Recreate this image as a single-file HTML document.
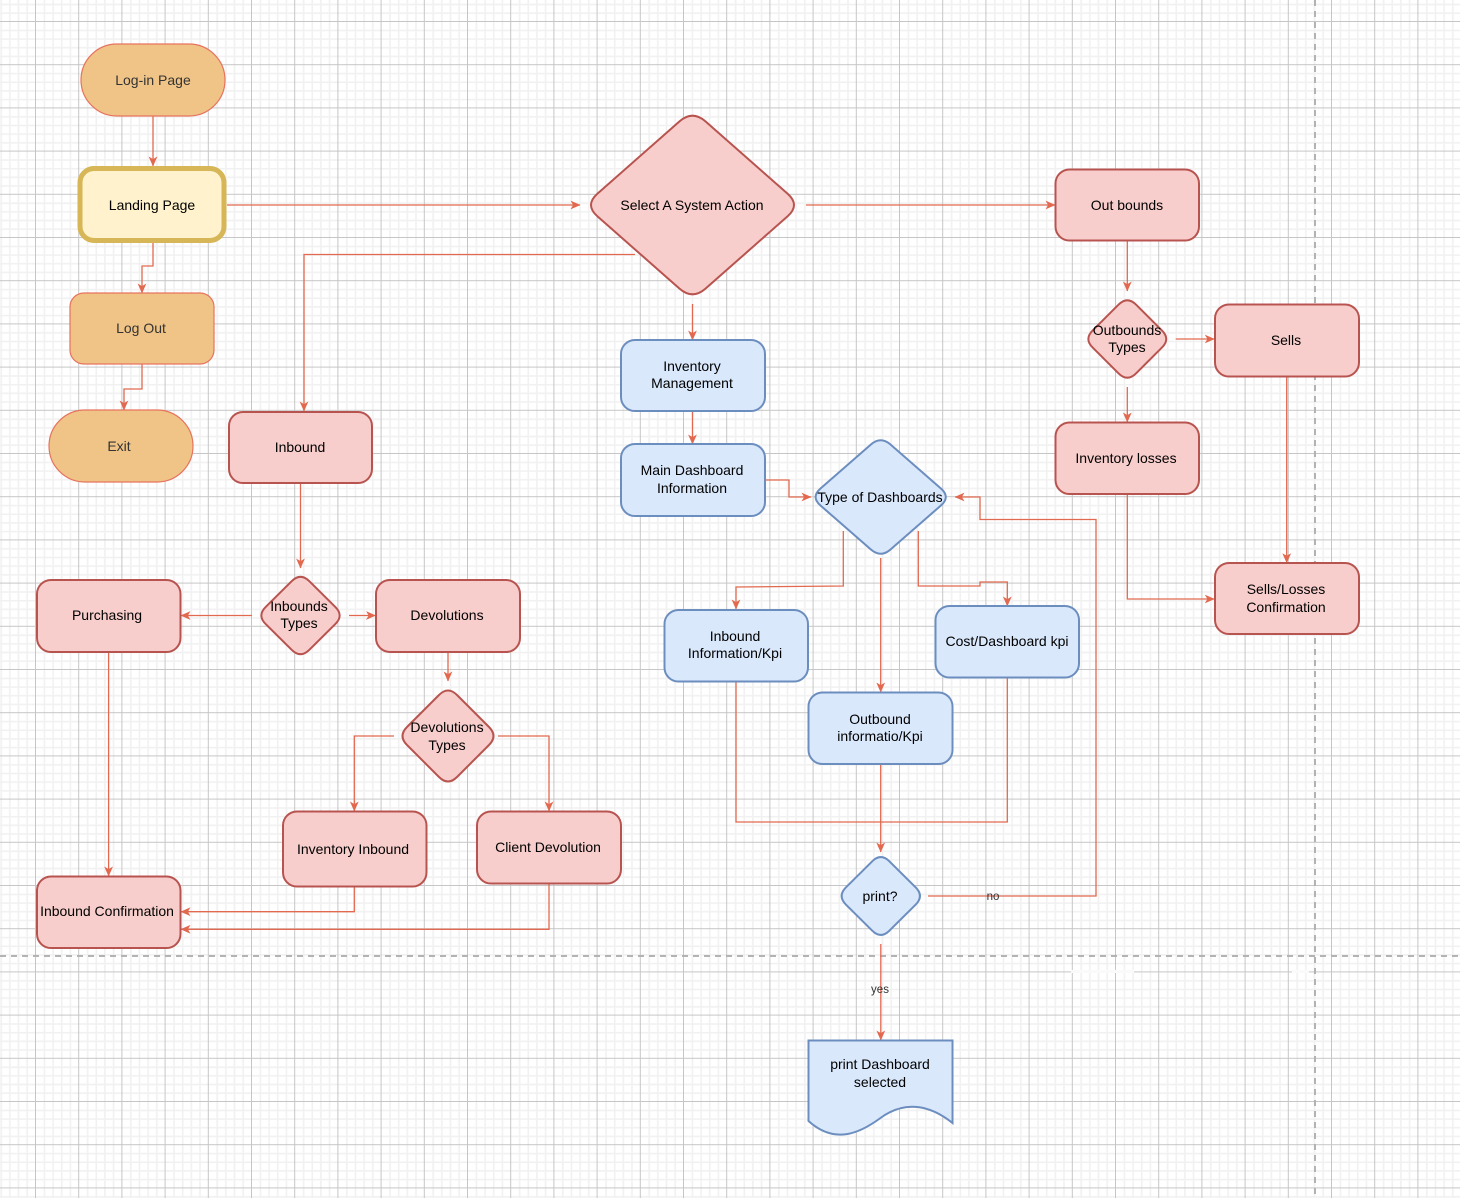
<!DOCTYPE html>
<html>
<head>
<meta charset="utf-8">
<style>
  html,body{margin:0;padding:0;background:#fff;}
  svg{display:block;}
  text{font-family:"Liberation Sans",Helvetica,Arial,sans-serif;font-size:14px;fill:#000;}
  .dk{fill:#333;}
  .lbl{font-size:11.5px;fill:#333;}
</style>
</head>
<body>
<svg width="1460" height="1198" viewBox="0 0 1460 1198" xmlns="http://www.w3.org/2000/svg">
  <defs>
    <pattern id="grid" x="35" y="21" width="43.2" height="43.2" patternUnits="userSpaceOnUse">
      <rect x="8.64" y="0" width="1.6" height="43.2" fill="#f1f1f1"/>
      <rect x="17.28" y="0" width="1.6" height="43.2" fill="#f1f1f1"/>
      <rect x="25.92" y="0" width="1.6" height="43.2" fill="#f1f1f1"/>
      <rect x="34.56" y="0" width="1.6" height="43.2" fill="#f1f1f1"/>
      <rect x="0" y="8.64" width="43.2" height="1.6" fill="#f1f1f1"/>
      <rect x="0" y="17.28" width="43.2" height="1.6" fill="#f1f1f1"/>
      <rect x="0" y="25.92" width="43.2" height="1.6" fill="#f1f1f1"/>
      <rect x="0" y="34.56" width="43.2" height="1.6" fill="#f1f1f1"/>
      <rect x="0" y="0" width="1" height="43.2" fill="#c6c6c6"/>
      <rect x="0" y="0" width="43.2" height="1" fill="#c6c6c6"/>
    </pattern>
    <marker id="ar" viewBox="0 0 10 10" refX="9.5" refY="5" markerWidth="10" markerHeight="10" markerUnits="userSpaceOnUse" orient="auto">
      <path d="M0,0.6 L10,5 L0,9.4 L2.6,5 Z" fill="#E2694F"/>
    </marker>
  </defs>

  <!-- background grid -->
  <rect x="0" y="0" width="1460" height="1198" fill="#fff"/>
  <rect x="0" y="0" width="1460" height="1198" fill="url(#grid)"/>
  <!-- small grid artifacts -->
  <rect x="1071" y="970" width="63" height="3" fill="#fafafa"/>
  <rect x="1292" y="970" width="17" height="3" fill="#fafafa"/>

  <!-- page break dashed lines -->
  <line x1="0" y1="956" x2="1460" y2="956" stroke="#b3b3b3" stroke-width="2" stroke-dasharray="6 5"/>
  <line x1="1315" y1="0" x2="1315" y2="1198" stroke="#b3b3b3" stroke-width="2" stroke-dasharray="6 5"/>

  <!-- connectors -->
  <g fill="none" stroke="#E2694F" stroke-width="1.3" marker-end="url(#ar)">
    <path d="M153,116 L153,166"/>
    <path d="M153,243 L153,266 L142,266 L142,293"/>
    <path d="M142,364 L142,389 L124,389 L124,410"/>
    <path d="M227,205 L580,205"/>
    <path d="M635,254.5 L304,254.5 L304,411"/>
    <path d="M806,205 L1055,205"/>
    <path d="M692.5,304 L692.5,340"/>
    <path d="M692.5,412 L692.5,444"/>
    <path d="M765,480 L789,480 L789,497 L811,497"/>
    <path d="M843.3,531 L843.3,586 L736,587 L736,609"/>
    <path d="M880.7,558 L880.7,692"/>
    <path d="M918.3,531 L918.3,586 L980,586 L980,582 L1007.3,582 L1007.3,606"/>
    <path d="M880.7,764 L880.7,852"/>
    <path d="M928,896 L1096,896 L1096,519.5 L980,519.5 L980,497 L955,497"/>
    <path d="M880.8,944 L880.8,1040"/>
    <path d="M1127.3,241 L1127.3,291"/>
    <path d="M1175.7,339 L1214.3,339"/>
    <path d="M1127.3,387 L1127.3,422"/>
    <path d="M1127.3,494 L1127.3,599 L1214.3,599"/>
    <path d="M1286.7,377 L1286.7,562.7"/>
    <path d="M300.5,483 L300.5,568"/>
    <path d="M252,615.5 L181,615.5"/>
    <path d="M349,615.5 L375.5,615.5"/>
    <path d="M448,652 L448,681"/>
    <path d="M394,736 L354.3,736 L354.3,811"/>
    <path d="M498,736 L549,736 L549,811"/>
    <path d="M108.6,652 L108.6,876"/>
    <path d="M354.3,887 L354.3,911.7 L181,911.7"/>
    <path d="M549,883 L549,929.3 L181,929.3"/>
  </g>
  <path d="M736,682 L736,822 L1007.3,822 L1007.3,678" fill="none" stroke="#E2694F" stroke-width="1.3"/>

  <!-- orange nodes -->
  <rect x="81" y="44" width="144" height="72" rx="36" fill="#F0C487" stroke="#E6735E" stroke-width="1.2"/>
  <rect x="70" y="293" width="144" height="71" rx="14" fill="#F0C487" stroke="#E6735E" stroke-width="1.2"/>
  <rect x="49" y="410" width="144" height="72" rx="36" fill="#F0C487" stroke="#E6735E" stroke-width="1.2"/>
  <rect x="80" y="168.5" width="144" height="72" rx="14" fill="#FFF2CC" stroke="#D6B656" stroke-width="5"/>

  <!-- pink nodes -->
  <g fill="#F8CECC" stroke="#B85450" stroke-width="2">
    <rect x="229" y="412" width="143" height="71" rx="14"/>
    <rect x="1055.5" y="169.5" width="143.5" height="71" rx="14"/>
    <rect x="1215" y="304.5" width="144" height="72" rx="14"/>
    <rect x="1055.5" y="422.5" width="143.5" height="71.5" rx="14"/>
    <rect x="1215" y="563" width="144" height="71" rx="14"/>
    <rect x="37" y="580" width="143.5" height="72" rx="14"/>
    <rect x="376" y="580" width="144" height="72" rx="14"/>
    <rect x="283" y="811.5" width="143.5" height="75" rx="14"/>
    <rect x="477" y="811.5" width="144" height="72" rx="14"/>
    <rect x="37" y="876.5" width="143.5" height="71.5" rx="14"/>
    <path d="M705.5,121.4 L787.5,193.6 Q800.5,205 787.5,216.4 L705.5,288.6 Q692.5,300 679.5,288.6 L597.5,216.4 Q584.5,205 597.5,193.6 L679.5,121.4 Q692.5,110 705.5,121.4 Z"/>
    <path d="M1136,304.6 L1161.9,330.4 Q1170.6,339 1161.9,347.6 L1136,373.4 Q1127.3,382 1118.6,373.4 L1092.7,347.6 Q1084,339 1092.7,330.4 L1118.6,304.6 Q1127.3,296 1136,304.6 Z"/>
    <path d="M309.2,581.1 L335.3,606.9 Q344,615.5 335.3,624.1 L309.2,649.9 Q300.5,658.5 291.8,649.9 L265.7,624.1 Q257,615.5 265.7,606.9 L291.8,581.1 Q300.5,572.5 309.2,581.1 Z"/>
    <path d="M457,695 L489,727 Q498,736 489,745 L457,777 Q448,786 439,777 L407,745 Q398,736 407,727 L439,695 Q448,686 457,695 Z"/>
  </g>

  <!-- blue nodes -->
  <g fill="#DAE8FC" stroke="#6C8EBF" stroke-width="2">
    <rect x="621" y="340" width="144" height="71" rx="14"/>
    <rect x="621" y="444" width="144" height="72" rx="14"/>
    <rect x="664.5" y="610" width="143.5" height="71.5" rx="14"/>
    <rect x="935.5" y="606" width="143.5" height="71.5" rx="14"/>
    <rect x="808.5" y="692.5" width="144" height="71.5" rx="14"/>
    <path d="M890.5,444.5 L940.9,488.5 Q950.7,497 940.9,505.5 L890.5,549.5 Q880.7,558 870.9,549.5 L820.5,505.5 Q810.7,497 820.5,488.5 L870.9,444.5 Q880.7,436 890.5,444.5 Z"/>
    <path d="M889.5,861.4 L915.6,887.3 Q924.3,896 915.6,904.7 L889.5,930.6 Q880.8,939.3 872.1,930.6 L846,904.7 Q837.3,896 846,887.3 L872.1,861.4 Q880.8,852.7 889.5,861.4 Z"/>
    <path d="M808.5,1040.5 L952.5,1040.5 L952.5,1123 C930,1105 905,1100 880.5,1118 C860,1133 835,1145 808.5,1121 Z"/>
  </g>

  <!-- labels -->
  <g text-anchor="middle" dominant-baseline="central">
    <text class="dk" x="153" y="80">Log-in Page</text>
    <text x="152" y="205">Landing Page</text>
    <text class="dk" x="141" y="328">Log Out</text>
    <text class="dk" x="119" y="446">Exit</text>
    <text x="300" y="447">Inbound</text>
    <text x="692" y="205">Select A System Action</text>
    <text x="1127" y="205">Out bounds</text>
    <text x="1127" y="330">Outbounds</text>
    <text x="1127" y="347">Types</text>
    <text x="1286" y="340">Sells</text>
    <text x="1126" y="458">Inventory losses</text>
    <text x="1286" y="589">Sells/Losses</text>
    <text x="1286" y="607">Confirmation</text>
    <text x="692" y="366">Inventory</text>
    <text x="692" y="383">Management</text>
    <text x="692" y="470">Main Dashboard</text>
    <text x="692" y="488">Information</text>
    <text x="880" y="497">Type of Dashboards</text>
    <text x="735" y="636">Inbound</text>
    <text x="735" y="653">Information/Kpi</text>
    <text x="1007" y="641">Cost/Dashboard kpi</text>
    <text x="880" y="719">Outbound</text>
    <text x="880" y="736">informatio/Kpi</text>
    <text x="880" y="896">print?</text>
    <text class="lbl" x="993" y="897">no</text>
    <text class="lbl" x="880" y="990">yes</text>
    <text x="880" y="1064">print Dashboard</text>
    <text x="880" y="1082">selected</text>
    <text x="107" y="615">Purchasing</text>
    <text x="299" y="606">Inbounds</text>
    <text x="299" y="623">Types</text>
    <text x="447" y="615">Devolutions</text>
    <text x="447" y="727">Devolutions</text>
    <text x="447" y="745">Types</text>
    <text x="353" y="849">Inventory Inbound</text>
    <text x="548" y="847">Client Devolution</text>
    <text x="107" y="911">Inbound Confirmation</text>
  </g>
</svg>
</body>
</html>
